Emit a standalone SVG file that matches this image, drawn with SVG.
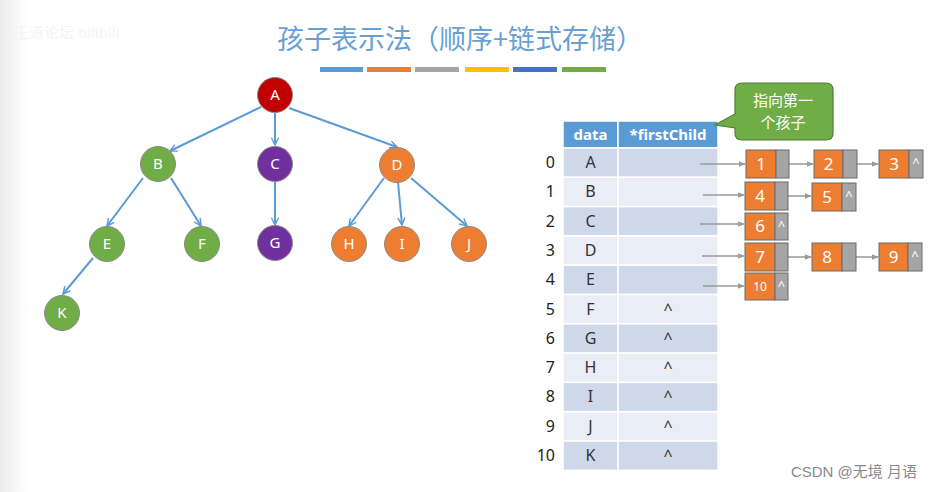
<svg xmlns="http://www.w3.org/2000/svg" width="932" height="492" viewBox="0 0 932 492">
<defs>
<linearGradient id="bgl" x1="0" y1="0" x2="1" y2="0">
<stop offset="0" stop-color="#ececec"/>
<stop offset="1" stop-color="#ffffff"/>
</linearGradient>
<marker id="ab" viewBox="0 0 10 10" refX="9" refY="5" markerWidth="9" markerHeight="9" markerUnits="userSpaceOnUse" orient="auto">
<path d="M1,1 L9,5 L1,9" fill="none" stroke="#5b9bd5" stroke-width="1.6"/>
</marker>
<marker id="ag" viewBox="0 0 10 10" refX="9" refY="5" markerWidth="7" markerHeight="7" markerUnits="userSpaceOnUse" orient="auto">
<path d="M0,1 L10,5 L0,9 Z" fill="#9a9a9a"/>
</marker>
<style>
text{font-family:"Noto Sans","Open Sans","Noto Sans CJK SC",sans-serif}
.tn circle{stroke:#8a8a8a;stroke-width:1}
.tn text{fill:#fff;font-size:15px;text-anchor:middle}
.edge{stroke:#5b9bd5;stroke-width:2;fill:none;marker-end:url(#ab)}
.ptr{stroke:#9a9a9a;stroke-width:1.5;fill:none;marker-end:url(#ag)}
.hd{fill:#5b9bd5}
.dk{fill:#cfd8e9}
.lt{fill:#e9edf5}
.cell{stroke:#fff;stroke-width:1.5}
.hdt{fill:#fff;font-weight:bold;font-size:15px;text-anchor:middle}
.ct{fill:#333;font-size:16px;text-anchor:middle}
.idx{fill:#222;font-size:16px;text-anchor:end}
.ln .v{fill:#ed7d31;stroke:#6b6b6b;stroke-width:1}
.ln .p{fill:#a5a5a5;stroke:#6b6b6b;stroke-width:1}
.ln text{fill:#fff;font-size:17px;text-anchor:middle}
.ln .n{font-size:12px}
.ln .c{font-size:13px}
.co{fill:#fff;font-size:15px;text-anchor:middle;font-family:"Noto Sans CJK SC",sans-serif}
</style>
</defs>
<rect width="932" height="492" fill="#fff"/>
<rect width="28" height="492" fill="url(#bgl)"/>
<text x="14" y="38" font-size="15" fill="#f4f4f4">王道论坛 bilibili</text>

<text x="460" y="49" font-size="27" fill="#6a9fd3" text-anchor="middle" style="font-family:'Noto Sans CJK SC',sans-serif">孩子表示法（顺序+链式存储）</text>
<g id="bars">
<rect x="320" y="67" width="43" height="5" fill="#5b9bd5"/>
<rect x="367" y="67" width="44" height="5" fill="#ed7d31"/>
<rect x="415" y="67" width="44" height="5" fill="#a5a5a5"/>
<rect x="465" y="67" width="44" height="5" fill="#ffc000"/>
<rect x="513" y="67" width="44" height="5" fill="#4472c4"/>
<rect x="562" y="67" width="44" height="5" fill="#70ad47"/>
</g>

<g id="tree-edges">
<line class="edge" x1="261" y1="107" x2="170" y2="151"/>
<line class="edge" x1="275" y1="113" x2="275" y2="145"/>
<line class="edge" x1="289" y1="108" x2="397" y2="147"/>
<line class="edge" x1="143" y1="178" x2="107" y2="226"/>
<line class="edge" x1="171" y1="178" x2="201" y2="226"/>
<line class="edge" x1="275" y1="182" x2="275" y2="225"/>
<line class="edge" x1="384" y1="178" x2="349" y2="226"/>
<line class="edge" x1="398" y1="182" x2="402" y2="225"/>
<line class="edge" x1="411" y1="178" x2="467" y2="226"/>
<line class="edge" x1="93" y1="258" x2="63" y2="294"/>
</g>

<g id="node-A" class="tn"><circle cx="275" cy="95" r="17.5" fill="#c00000"/><text x="275" y="100">A</text></g>
<g id="node-B" class="tn"><circle cx="158" cy="164" r="17.5" fill="#70ad47"/><text x="158" y="169">B</text></g>
<g id="node-C" class="tn"><circle cx="275" cy="164" r="17.5" fill="#7030a0"/><text x="275" y="169">C</text></g>
<g id="node-D" class="tn"><circle cx="397" cy="165" r="17.5" fill="#ed7d31"/><text x="397" y="170">D</text></g>
<g id="node-E" class="tn"><circle cx="107" cy="244" r="17.5" fill="#70ad47"/><text x="107" y="249">E</text></g>
<g id="node-F" class="tn"><circle cx="202" cy="244" r="17.5" fill="#70ad47"/><text x="202" y="249">F</text></g>
<g id="node-G" class="tn"><circle cx="275" cy="243" r="17.5" fill="#7030a0"/><text x="275" y="248">G</text></g>
<g id="node-H" class="tn"><circle cx="349" cy="244" r="17.5" fill="#ed7d31"/><text x="349" y="249">H</text></g>
<g id="node-I" class="tn"><circle cx="402" cy="244" r="17.5" fill="#ed7d31"/><text x="402" y="249">I</text></g>
<g id="node-J" class="tn"><circle cx="469" cy="244" r="17.5" fill="#ed7d31"/><text x="469" y="249">J</text></g>
<g id="node-K" class="tn"><circle cx="62" cy="313" r="17.5" fill="#70ad47"/><text x="62" y="318">K</text></g>

<g id="table">
<rect class="hd cell" x="563" y="121" width="55" height="27"/>
<rect class="hd cell" x="618" y="121" width="100" height="27"/>
<text class="hdt" x="590.5" y="140">data</text>
<text class="hdt" x="668" y="140">*firstChild</text>
<rect class="dk cell" x="563" y="148" width="55" height="29.3"/><rect class="dk cell" x="618" y="148" width="100" height="29.3"/>
<rect class="lt cell" x="563" y="177.3" width="55" height="29.3"/><rect class="lt cell" x="618" y="177.3" width="100" height="29.3"/>
<rect class="dk cell" x="563" y="206.6" width="55" height="29.3"/><rect class="dk cell" x="618" y="206.6" width="100" height="29.3"/>
<rect class="lt cell" x="563" y="235.9" width="55" height="29.3"/><rect class="lt cell" x="618" y="235.9" width="100" height="29.3"/>
<rect class="dk cell" x="563" y="265.2" width="55" height="29.3"/><rect class="dk cell" x="618" y="265.2" width="100" height="29.3"/>
<rect class="lt cell" x="563" y="294.5" width="55" height="29.3"/><rect class="lt cell" x="618" y="294.5" width="100" height="29.3"/>
<rect class="dk cell" x="563" y="323.8" width="55" height="29.3"/><rect class="dk cell" x="618" y="323.8" width="100" height="29.3"/>
<rect class="lt cell" x="563" y="353.1" width="55" height="29.3"/><rect class="lt cell" x="618" y="353.1" width="100" height="29.3"/>
<rect class="dk cell" x="563" y="382.4" width="55" height="29.3"/><rect class="dk cell" x="618" y="382.4" width="100" height="29.3"/>
<rect class="lt cell" x="563" y="411.7" width="55" height="29.3"/><rect class="lt cell" x="618" y="411.7" width="100" height="29.3"/>
<rect class="dk cell" x="563" y="441" width="55" height="29.3"/><rect class="dk cell" x="618" y="441" width="100" height="29.3"/>
<g>
<text class="idx" x="555" y="168">0</text><text class="ct" x="590.5" y="168">A</text>
<text class="idx" x="555" y="197">1</text><text class="ct" x="590.5" y="197">B</text>
<text class="idx" x="555" y="227">2</text><text class="ct" x="590.5" y="227">C</text>
<text class="idx" x="555" y="256">3</text><text class="ct" x="590.5" y="256">D</text>
<text class="idx" x="555" y="285">4</text><text class="ct" x="590.5" y="285">E</text>
<text class="idx" x="555" y="315">5</text><text class="ct" x="590.5" y="315">F</text><text class="ct" x="668" y="315">^</text>
<text class="idx" x="555" y="344">6</text><text class="ct" x="590.5" y="344">G</text><text class="ct" x="668" y="344">^</text>
<text class="idx" x="555" y="373">7</text><text class="ct" x="590.5" y="373">H</text><text class="ct" x="668" y="373">^</text>
<text class="idx" x="555" y="402">8</text><text class="ct" x="590.5" y="402">I</text><text class="ct" x="668" y="402">^</text>
<text class="idx" x="555" y="432">9</text><text class="ct" x="590.5" y="432">J</text><text class="ct" x="668" y="432">^</text>
<text class="idx" x="555" y="461">10</text><text class="ct" x="590.5" y="461">K</text><text class="ct" x="668" y="461">^</text>
</g>
</g>

<g id="callout">
<path d="M742,83 H826 Q833,83 833,90 V133 Q833,140 826,140 H742 Q735,140 735,133 V128 L715,125 L735,114 V90 Q735,83 742,83 Z" fill="#70ad47" stroke="#4e7f32" stroke-width="1.2"/>
<text class="co" x="783" y="106">指向第一</text>
<text class="co" x="783" y="128">个孩子</text>
</g>

<g id="pointers">
<line class="ptr" x1="700" y1="164" x2="745" y2="164"/>
<line class="ptr" x1="703" y1="195" x2="744" y2="195"/>
<line class="ptr" x1="700" y1="224" x2="744" y2="224"/>
<line class="ptr" x1="702" y1="256" x2="744" y2="256"/>
<line class="ptr" x1="703" y1="286" x2="744" y2="286"/>
<line class="ptr" x1="789" y1="164" x2="813" y2="164"/>
<line class="ptr" x1="857" y1="164" x2="878" y2="164"/>
<line class="ptr" x1="788" y1="196" x2="811" y2="196"/>
<line class="ptr" x1="788" y1="257" x2="811" y2="257"/>
<line class="ptr" x1="856" y1="257" x2="878" y2="257"/>
</g>

<g id="list-1" class="ln"><rect class="v" x="746" y="150" width="30" height="28"/><rect class="p" x="776" y="150" width="13" height="28"/><text x="761" y="170">1</text></g>
<g id="list-2" class="ln"><rect class="v" x="814" y="150" width="29" height="28"/><rect class="p" x="843" y="150" width="14" height="28"/><text x="828.5" y="170">2</text></g>
<g id="list-3" class="ln"><rect class="v" x="879" y="150" width="30" height="28"/><rect class="p" x="909" y="150" width="14" height="28"/><text x="894" y="170">3</text><text class="c" x="916" y="167">^</text></g>
<g id="list-4" class="ln"><rect class="v" x="745" y="182" width="30" height="28"/><rect class="p" x="775" y="182" width="13" height="28"/><text x="760" y="202">4</text></g>
<g id="list-5" class="ln"><rect class="v" x="812" y="183" width="30" height="28"/><rect class="p" x="842" y="183" width="14" height="28"/><text x="827" y="203">5</text><text class="c" x="849" y="200">^</text></g>
<g id="list-6" class="ln"><rect class="v" x="745" y="213" width="30" height="27"/><rect class="p" x="775" y="213" width="13" height="27"/><text x="760" y="232">6</text><text class="c" x="781.5" y="230">^</text></g>
<g id="list-7" class="ln"><rect class="v" x="745" y="243" width="30" height="28"/><rect class="p" x="775" y="243" width="13" height="28"/><text x="760" y="263">7</text></g>
<g id="list-8" class="ln"><rect class="v" x="812" y="243" width="30" height="28"/><rect class="p" x="842" y="243" width="14" height="28"/><text x="827" y="263">8</text></g>
<g id="list-9" class="ln"><rect class="v" x="879" y="243" width="29" height="28"/><rect class="p" x="908" y="243" width="14" height="28"/><text x="893.5" y="263">9</text><text class="c" x="915" y="260">^</text></g>
<g id="list-10" class="ln"><rect class="v" x="745" y="273" width="30" height="27"/><rect class="p" x="775" y="273" width="13" height="27"/><text class="n" x="760" y="291">10</text><text class="c" x="781.5" y="290">^</text></g>

<text x="917" y="477" font-size="15" fill="#8a8a8a" text-anchor="end" style="font-family:'Liberation Sans','Noto Sans CJK SC',sans-serif">CSDN @无境 月语</text>
</svg>
